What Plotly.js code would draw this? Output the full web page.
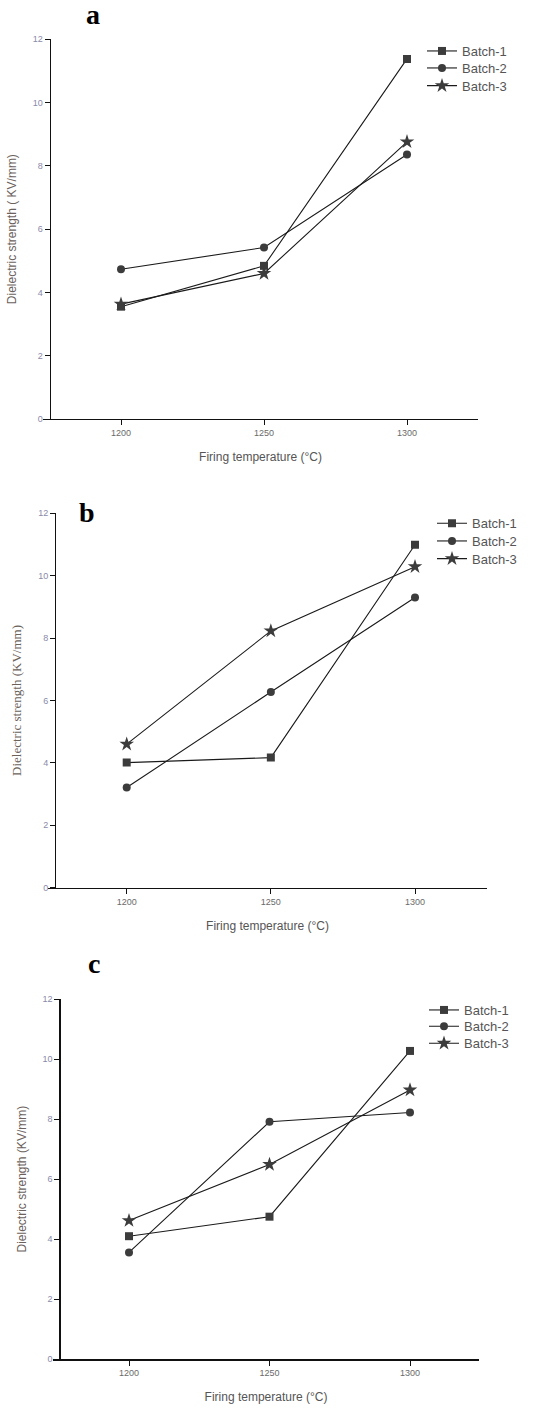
<!DOCTYPE html>
<html>
<head>
<meta charset="utf-8">
<script src="https://cdn.plot.ly/plotly-3.0.1.min.js"></script>
<style>html,body{margin:0;padding:0;background:#fff;}#chart{width:542px;height:1408px;}</style>
</head>
<body>
<div id="chart"></div>
<script>
// ---- data ----
const temperatures = [1200, 1250, 1300];
const seriesNames = ["Batch-1", "Batch-2", "Batch-3"];
const panelLabels = ["a", "b", "c"];
const xTickLabels = ["1200", "1250", "1300"];
const yTickValues = [0, 2, 4, 6, 8, 10, 12];

const a_batch1 = [3.55, 4.84, 11.38];
const a_batch2 = [4.73, 5.42, 8.36];
const a_batch3 = [3.63, 4.60, 8.76];

const b_batch1 = [4.01, 4.17, 10.99];
const b_batch2 = [3.21, 6.27, 9.30];
const b_batch3 = [4.60, 8.23, 10.29];

const c_batch1 = [4.10, 4.75, 10.27];
const c_batch2 = [3.56, 7.91, 8.22];
const c_batch3 = [4.62, 6.49, 8.97];

const yTitles = ["Dielectric strength ( KV/mm)", "Dielectric strength (KV/mm)", "Dielectric strength (KV/mm)"];
const xTitle = "Firing temperature (°C)";

// ---- layout helpers ----
const W = 542, H = 1408;
const fx = p => p / W;
const fy = p => 1 - p / H;

const panels = [
  {data: [a_batch1, a_batch2, a_batch3], yAxisX: 49.5, xL: 43, xR: 478, yT: 39.3, yB: 419, t0: 121, t1: 407,
   label: [93, 15], legX: 422, legRows: [51, 68, 85.7], yTitleFont: "Liberation Sans, Arial, sans-serif"},
  {data: [b_batch1, b_batch2, b_batch3], yAxisX: 55, xL: 48, xR: 487, yT: 513.3, yB: 887.7, t0: 126.7, t1: 415,
   label: [87, 513], legX: 432, legRows: [523.3, 541, 558.7], yTitleFont: "Liberation Serif, Times New Roman, serif"},
  {data: [c_batch1, c_batch2, c_batch3], yAxisX: 59.3, xL: 53, xR: 479, yT: 999, yB: 1359.3, t0: 129, t1: 410,
   label: [94, 963], legX: 424, legRows: [1010, 1026.3, 1043.3], yTitleFont: "Liberation Sans, Arial, sans-serif"}
];

const symbols = ["square", "circle", "star"];
const msizes = [8, 8, 11];
const markColor = "#3c3c3c";
const lineColor = "#1a1a1a";

const traces = [];
const layout = {
  width: W, height: H,
  margin: {l: 0, r: 0, t: 0, b: 0},
  paper_bgcolor: "#fff", plot_bgcolor: "rgba(0,0,0,0)",
  font: {family: "Liberation Sans, Arial, sans-serif", color: "#555"},
  annotations: [],
  showlegend: true
};

let legCount = 0;
panels.forEach((p, i) => {
  const n = i === 0 ? "" : String(i + 1);
  const xa = "xaxis" + n, ya = "yaxis" + n;
  const xr = "x" + n, yr = "y" + n;
  const pxPerUnit = (p.t1 - p.t0) / (temperatures[2] - temperatures[0]);
  const xmin = temperatures[0] - (p.t0 - p.xL) / pxPerUnit;
  const xmax = temperatures[2] + (p.xR - p.t1) / pxPerUnit;

  p.data.forEach((vals, k) => {
    legCount += 1;
    const leg = legCount === 1 ? "legend" : "legend" + legCount;
    traces.push({
      type: "scatter", mode: "lines+markers",
      x: temperatures, y: vals, name: seriesNames[k],
      xaxis: xr, yaxis: yr, legend: leg,
      line: {color: lineColor, width: 1.1},
      marker: {symbol: symbols[k], size: msizes[k], color: markColor}
    });
    layout[leg] = {
      x: fx(p.legX), y: fy(p.legRows[k]), xanchor: "left", yanchor: "middle",
      bgcolor: "rgba(0,0,0,0)", borderwidth: 0,
      font: {size: 13, color: "#555"}, itemwidth: 30
    };
  });

  layout[xa] = {
    domain: [fx(p.xL), fx(p.xR)], range: [xmin, xmax], anchor: yr,
    tickvals: temperatures, ticktext: xTickLabels,
    showline: true, linecolor: "#111", linewidth: 1.2,
    ticks: "outside", ticklen: 5, tickcolor: "#111", tickwidth: 1,
    showgrid: false, zeroline: false,
    tickfont: {size: 9, color: "#6a6a6a"},
    title: {text: xTitle, font: {size: 12, color: "#555"}, standoff: 15}
  };
  layout[ya] = {
    domain: [fy(p.yB), fy(p.yT)], range: [0, 12], anchor: "free", position: fx(p.yAxisX),
    tickvals: yTickValues,
    showline: true, linecolor: "#111", linewidth: 1.2,
    ticks: "outside", ticklen: 5, tickcolor: "#111", tickwidth: 1,
    showgrid: false, zeroline: false,
    tickfont: {size: 9, color: "#8a8aa8"},
    title: {text: yTitles[i], font: {size: i === 1 ? 13 : 12, color: "#6b625c", family: p.yTitleFont}, standoff: 12}
  };
  layout.annotations.push({
    text: "<b>" + panelLabels[i] + "</b>", showarrow: false,
    xref: "paper", yref: "paper", x: fx(p.label[0]), y: fy(p.label[1]),
    xanchor: "center", yanchor: "middle",
    font: {family: "Liberation Serif, Times New Roman, serif", size: 28, color: "#000"}
  });
});

Plotly.newPlot("chart", traces, layout, {staticPlot: true, displayModeBar: false});
</script>
</body>
</html>
